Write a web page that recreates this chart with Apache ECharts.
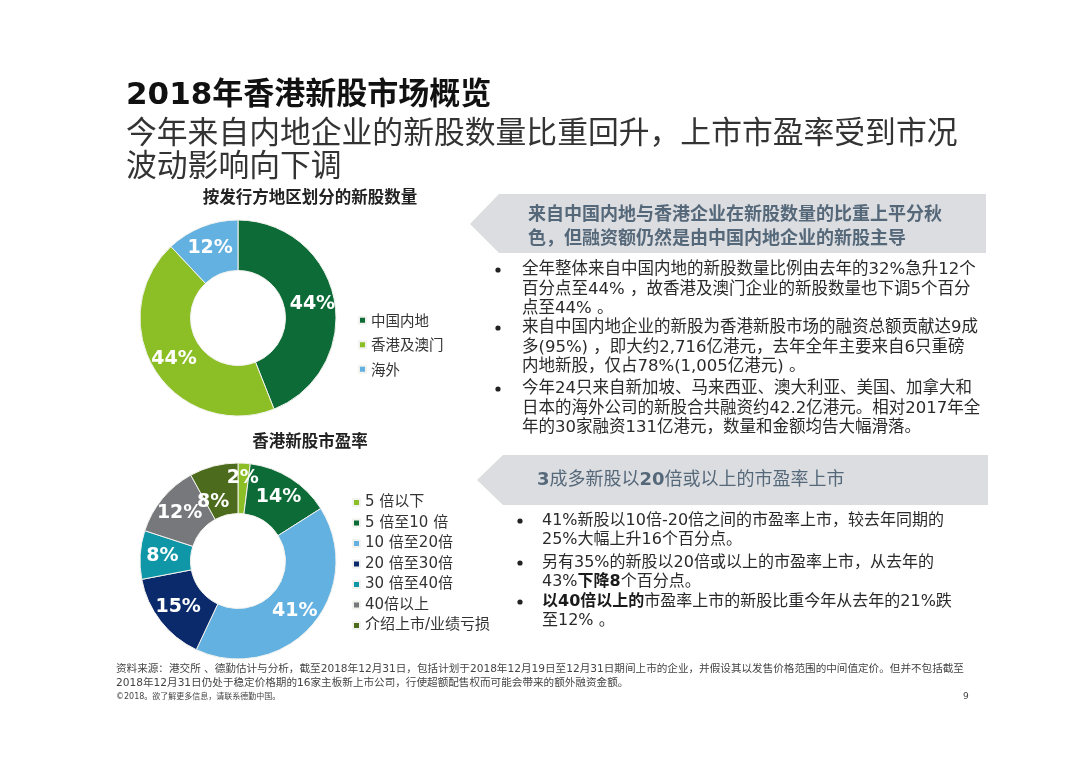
<!DOCTYPE html>
<html><head><meta charset="utf-8">
<script src="https://cdn.jsdelivr.net/npm/echarts@6/dist/echarts.min.js"></script>
<style>html,body{margin:0;padding:0;background:#fff}#c{width:1080px;height:763px}</style>
</head><body><div id="c"></div>
<script>
// ---- data ----
const regionNames = ['中国内地', '香港及澳门', '海外'];
const regionValues = [44, 44, 12];
const peNames = ['5 倍以下', '5 倍至10 倍', '10 倍至20倍', '20 倍至30倍', '30 倍至40倍', '40倍以上', '介绍上市/业绩亏损'];
const peValues = [2, 14, 41, 15, 8, 12, 8];

const titleLine1 = '2018年香港新股市场概览';
const titleLine2 = '今年来自内地企业的新股数量比重回升，上市市盈率受到市况';
const titleLine3 = '波动影响向下调';
const chart1Title = '按发行方地区划分的新股数量';
const chart2Title = '香港新股市盈率';
const box1Head = ['来自中国内地与香港企业在新股数量的比重上平分秋', '色，但融资额仍然是由中国内地企业的新股主导'];
const box1Bullets = [
  ['全年整体来自中国内地的新股数量比例由去年的32%急升12个', '百分点至44% ，故香港及澳门企业的新股数量也下调5个百分', '点至44% 。'],
  ['来自中国内地企业的新股为香港新股市场的融资总额贡献达9成', '多(95%) ，即大约2,716亿港元，去年全年主要来自6只重磅', '内地新股，仅占78%(1,005亿港元) 。'],
  ['今年24只来自新加坡、马来西亚、澳大利亚、美国、加拿大和', '日本的海外公司的新股合共融资约42.2亿港元。相对2017年全', '年的30家融资131亿港元，数量和金额均告大幅滑落。']
];
const box2Head = '{b|3}成多新股以{b|20}倍或以上的市盈率上市';
const box2Bullets = [
  ['41%新股以10倍-20倍之间的市盈率上市，较去年同期的', '25%大幅上升16个百分点。'],
  ['另有35%的新股以20倍或以上的市盈率上市，从去年的', '43%{b|下降8}个百分点。'],
  ['{b|以40倍以上的}市盈率上市的新股比重今年从去年的21%跌', '至12% 。']
];
const footer1 = '资料来源：港交所 、德勤估计与分析，截至2018年12月31日，包括计划于2018年12月19日至12月31日期间上市的企业，并假设其以发售价格范围的中间值定价。但并不包括截至';
const footer2 = '2018年12月31日仍处于稳定价格期的16家主板新上市公司，行使超额配售权而可能会带来的额外融资金额。';
const footer3 = '©2018。欲了解更多信息，请联系德勤中国。';
const pageNo = '9';

// ---- styles ----
const regionColors = ['#0c6b36', '#8cbf26', '#62b1e0'];
const peColors = ['#8cbf26', '#0c6b36', '#62b1e0', '#0b2a6b', '#0f97a8', '#76787b', '#4d6b1c'];
// label nudges for the crowded small slices in the second donut
const peLabelTweak = [
  { formatter: '{c}%\n', lineHeight: 14 },
  null, null, null, null, null,
  { formatter: '\n{c}%', lineHeight: 28, padding: [0, 12, 0, 0] }
];
const F = '"DejaVu Sans", "Noto Sans CJK SC", sans-serif';
const FC = '"Noto Sans CJK SC", "DejaVu Sans", sans-serif';

function T(x, y, text, opt) {
  return {
    type: 'text', x: x, y: y, silent: true, z: 10,
    style: Object.assign({
      text: text, fill: '#333', fontSize: 16, fontFamily: F,
      align: 'left', textAlign: 'left', verticalAlign: 'middle', textVerticalAlign: 'middle'
    }, opt || {})
  };
}
function bulletBlock(dotX, textX, firstY, lines, lh, size) {
  const els = [];
  els.push({ type: 'circle', silent: true, shape: { cx: dotX, cy: firstY, r: 2.6 }, style: { fill: '#222' } });
  els.push(T(textX, firstY - lh / 2, lines.join('\n'), {
    fontSize: size, lineHeight: lh, verticalAlign: 'top', textVerticalAlign: 'top', fill: '#2a2a2a',
    rich: { b: { fontWeight: 'bold', fontSize: size, fontFamily: F, fill: '#1a1a1a', lineHeight: lh } }
  }));
  return els;
}

const graphics = [];
graphics.push(T(126, 96, titleLine1, { fontSize: 31, fontWeight: 'bold', fill: '#111', fontFamily: F }));
graphics.push(T(126, 131, titleLine2, { fontSize: 30.8, fill: '#333', fontFamily: FC }));
graphics.push(T(126, 164, titleLine3, { fontSize: 30.8, fill: '#333', fontFamily: FC }));
graphics.push(T(310, 197, chart1Title, { fontSize: 16.5, fontWeight: 'bold', fill: '#222', fontFamily: FC, align: 'center', textAlign: 'center' }));
graphics.push(T(310, 441, chart2Title, { fontSize: 16.5, fontWeight: 'bold', fill: '#222', fontFamily: FC, align: 'center', textAlign: 'center' }));

// arrow boxes
graphics.push({ type: 'polygon', silent: true, z: 1, shape: { points: [[470, 224], [499, 194], [986, 194], [986, 253], [499, 253]] }, style: { fill: '#dcdde0' } });
graphics.push({ type: 'polygon', silent: true, z: 1, shape: { points: [[477, 480], [503, 455], [988, 455], [988, 505], [503, 505]] }, style: { fill: '#dcdde0' } });

graphics.push(T(528, 201, box1Head.join('\n'), { fontSize: 18, lineHeight: 24, fontWeight: 'bold', fill: '#55687a', fontFamily: FC, verticalAlign: 'top', textVerticalAlign: 'top' }));
graphics.push(T(537, 480, box2Head, { fontSize: 18, fill: '#55687a', fontFamily: F, rich: { b: { fontWeight: 'bold', fontSize: 18, fontFamily: F, fill: '#55687a' } } }));

const b1y = [270, 328, 389];
box1Bullets.forEach((lines, i) => bulletBlock(498, 522, b1y[i], lines, 19.3, 16.5).forEach(e => graphics.push(e)));
const b2y = [521, 563, 602];
box2Bullets.forEach((lines, i) => bulletBlock(520, 542, b2y[i], lines, 19, 16).forEach(e => graphics.push(e)));

graphics.push(T(116, 669, footer1, { fontSize: 10.6, fill: '#444', fontFamily: F }));
graphics.push(T(116, 683, footer2, { fontSize: 10.6, fill: '#444', fontFamily: F }));
graphics.push(T(116, 697, footer3, { fontSize: 8, fill: '#444', fontFamily: F }));
graphics.push(T(963, 697, pageNo, { fontSize: 9, fill: '#444', fontFamily: F }));

const labelStyle = {
  show: true, position: 'inside', formatter: '{c}%', color: '#fff',
  fontWeight: 'bold', fontSize: 19, fontFamily: F
};

const chart = echarts.init(document.getElementById('c'), null, { renderer: 'canvas' });
chart.setOption({
  animation: false,
  backgroundColor: '#fff',
  legend: [
    {
      data: regionNames, orient: 'vertical', left: 353, top: 308,
      icon: 'rect', itemWidth: 7, itemHeight: 7, itemGap: 10, selectedMode: false,
      textStyle: { fontSize: 14.5, lineHeight: 14, color: '#333', fontFamily: FC }
    },
    {
      data: peNames, orient: 'vertical', left: 347, top: 490,
      icon: 'rect', itemWidth: 7, itemHeight: 7, itemGap: 5.5, selectedMode: false,
      textStyle: { fontSize: 15, lineHeight: 15, color: '#333', fontFamily: F }
    }
  ],
  series: [
    {
      type: 'pie', center: [238, 318], radius: [47.5, 98], startAngle: 90, clockwise: true,
      avoidLabelOverlap: false, label: labelStyle, labelLine: { show: false },
      labelLayout: { hideOverlap: false },
      emphasis: { disabled: true },
      itemStyle: { borderColor: '#f2f2ee', borderWidth: 1 },
      data: regionNames.map((n, i) => ({ name: n, value: regionValues[i], itemStyle: { color: regionColors[i] } }))
    },
    {
      type: 'pie', center: [238, 561], radius: [47.5, 98], startAngle: 90, clockwise: true,
      avoidLabelOverlap: false, label: labelStyle, labelLine: { show: false },
      labelLayout: { hideOverlap: false },
      emphasis: { disabled: true },
      itemStyle: { borderColor: '#f2f2ee', borderWidth: 1 },
      data: peNames.map((n, i) => {
        const d = { name: n, value: peValues[i], itemStyle: { color: peColors[i] } };
        if (peLabelTweak[i]) d.label = peLabelTweak[i];
        return d;
      })
    }
  ],
  graphic: graphics
});
</script>
</body></html>
